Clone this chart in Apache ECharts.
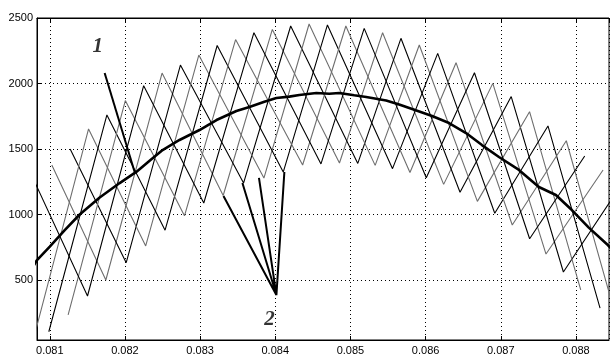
<!DOCTYPE html>
<html>
<head>
<meta charset="utf-8">
<script src="https://cdn.jsdelivr.net/npm/echarts@6/dist/echarts.min.js"></script>
<style>
html, body { margin: 0; padding: 0; background: #fff; }
#chart { width: 610px; height: 358px; }
</style>
</head>
<body>
<div id="chart"></div>
<script>
// peaks of the interleaved phase currents (one phase peaks at each time)
var peakT = [0.080782, 0.081027, 0.081271, 0.081516, 0.081760, 0.082005, 0.082249, 0.082494, 0.082738,
  0.082983, 0.083227, 0.083472, 0.083716, 0.083961, 0.084205, 0.084450, 0.084694, 0.084939, 0.085183,
  0.085428, 0.085672, 0.085916, 0.086161, 0.086405, 0.086650, 0.086894, 0.087139, 0.087383, 0.087628,
  0.087872, 0.088117, 0.088361, 0.088606];
var peakV = [1270, 1378, 1500, 1653, 1760, 1870, 1983, 2080, 2141, 2217, 2290, 2335, 2388, 2413, 2439, 2454,
  2447, 2439, 2421, 2388, 2345, 2294, 2230, 2159, 2082, 2001, 1900, 1785, 1676, 1563, 1447, 1340, 1230];
// troughs (the phase half a period away hits its minimum)
var troughT = [0.080742, 0.080987, 0.081244, 0.081502, 0.081746, 0.082017, 0.082276, 0.082534, 0.082792,
  0.083049, 0.083307, 0.083578, 0.083849, 0.084106, 0.084364, 0.084608, 0.084854, 0.085098, 0.085329,
  0.085560, 0.085792, 0.086009, 0.086240, 0.086458, 0.086689, 0.086920, 0.087153, 0.087384, 0.087602,
  0.087833, 0.088064, 0.088321, 0.088566];
var troughV = [-40, 105, 233, 378, 500, 632, 760, 880, 990, 1088, 1145, 1240, 1278, 1324, 1378, 1386, 1393,
  1390, 1375, 1350, 1320, 1280, 1230, 1170, 1100, 1010, 920, 815, 698, 561, 424, 286, 150];

// curve 1: total / average current
var avgT = [0.080734, 0.080827, 0.081000, 0.081199, 0.081398, 0.081664, 0.081930, 0.082155, 0.082328,
  0.082501, 0.082726, 0.082992, 0.083218, 0.083483, 0.083656, 0.083855, 0.084015, 0.084187, 0.084320,
  0.084546, 0.084718, 0.084851, 0.085051, 0.085210, 0.085475, 0.085648, 0.085821, 0.086086, 0.086312,
  0.086538, 0.086750, 0.086976, 0.087242, 0.087507, 0.087733, 0.087946, 0.088171, 0.088424, 0.088503];
var avgV = [560, 650, 754, 880, 1000, 1130, 1240, 1327, 1410, 1492, 1569, 1645, 1721, 1790, 1821, 1860, 1889,
  1900, 1912, 1927, 1922, 1927, 1910, 1897, 1870, 1840, 1805, 1752, 1698, 1622, 1530, 1439, 1340, 1210,
  1149, 1034, 900, 767, 720];

var phaseColors = ['#6e6e6e', '#000000', '#6e6e6e', '#000000', '#6e6e6e', '#000000'];

// annotation pointers (data units)
var note1 = [[0.081730, 2080], [0.082129, 1324]];
var note1Label = [0.081637, 2279];
var note2 = [[0.083311, 1141], [0.084015, 385], [0.083563, 1240], [0.084015, 385],
  [0.083783, 1279], [0.084015, 385], [0.084121, 1324]];
var note2Label = [0.083922, 195];

var xMin = 0.08083, xMax = 0.08844, yMin = 42, yMax = 2500;

function phaseData(k) {
  var pts = [];
  for (var i = 0; i < peakT.length; i++) {
    var j = i - 1;
    if ((((j - k) % 6) + 6) % 6 === 0) pts.push([peakT[i], peakV[i]]);
    if ((((j + 3 - k) % 6) + 6) % 6 === 0) pts.push([troughT[i], troughV[i]]);
  }
  pts.sort(function (a, b) { return a[0] - b[0]; });
  return pts;
}

var series = [];
for (var k = 0; k < 6; k++) {
  series.push({
    type: 'line', data: phaseData(k), showSymbol: false, symbol: 'none',
    lineStyle: { color: phaseColors[k], width: 1.1 }, z: 2, silent: true
  });
}
series.push({
  type: 'line', data: avgT.map(function (t, i) { return [t, avgV[i]]; }),
  symbol: 'none', lineStyle: { color: '#000', width: 2.6 }, z: 4, silent: true
});
series.push({
  type: 'line', data: note1, symbol: 'none',
  lineStyle: { color: '#000', width: 2 }, z: 5, silent: true
});
series.push({
  type: 'line', data: note2, symbol: 'none',
  lineStyle: { color: '#000', width: 2 }, z: 5, silent: true
});
series.push({
  type: 'scatter', symbolSize: 0, z: 6, silent: true,
  data: [
    { value: note1Label, label: { formatter: '1' } },
    { value: note2Label, label: { formatter: '2' } }
  ],
  label: {
    show: true, position: 'inside', color: '#000',
    fontFamily: 'Liberation Serif', fontStyle: 'italic', fontWeight: 'bold', fontSize: 21
  }
});

var chart = echarts.init(document.getElementById('chart'));
chart.setOption({
  animation: false,
  backgroundColor: '#fff',
  grid: { left: 37, right: 1, top: 18, bottom: 18, show: true, borderColor: '#000', borderWidth: 1 },
  xAxis: [{
    type: 'value', min: xMin, max: xMax, splitNumber: 8,
    axisLine: { show: true, onZero: false, lineStyle: { color: '#000' } },
    axisTick: { inside: true, length: 4, lineStyle: { color: '#000' } },
    axisLabel: { color: '#000', fontFamily: 'Liberation Sans', fontSize: 11, margin: 5,
      showMinLabel: false, showMaxLabel: false },
    splitLine: { show: true, lineStyle: { color: '#000', type: [1, 3], width: 1 } }
  }, {
    type: 'value', min: xMin, max: xMax, splitNumber: 8, position: 'top',
    axisLine: { show: true, onZero: false, lineStyle: { color: '#000' } },
    axisTick: { inside: true, length: 4, lineStyle: { color: '#000' } },
    axisLabel: { show: false }, splitLine: { show: false }
  }],
  yAxis: [{
    type: 'value', min: yMin, max: yMax, splitNumber: 5,
    axisLine: { show: true, onZero: false, lineStyle: { color: '#000' } },
    axisTick: { inside: true, length: 4, lineStyle: { color: '#000' } },
    axisLabel: { color: '#000', fontFamily: 'Liberation Sans', fontSize: 11, margin: 4,
      showMinLabel: false, formatter: function (v) { return String(v); } },
    splitLine: { show: true, lineStyle: { color: '#000', type: [1, 3], width: 1 } }
  }],
  series: series
});
</script>
</body>
</html>
